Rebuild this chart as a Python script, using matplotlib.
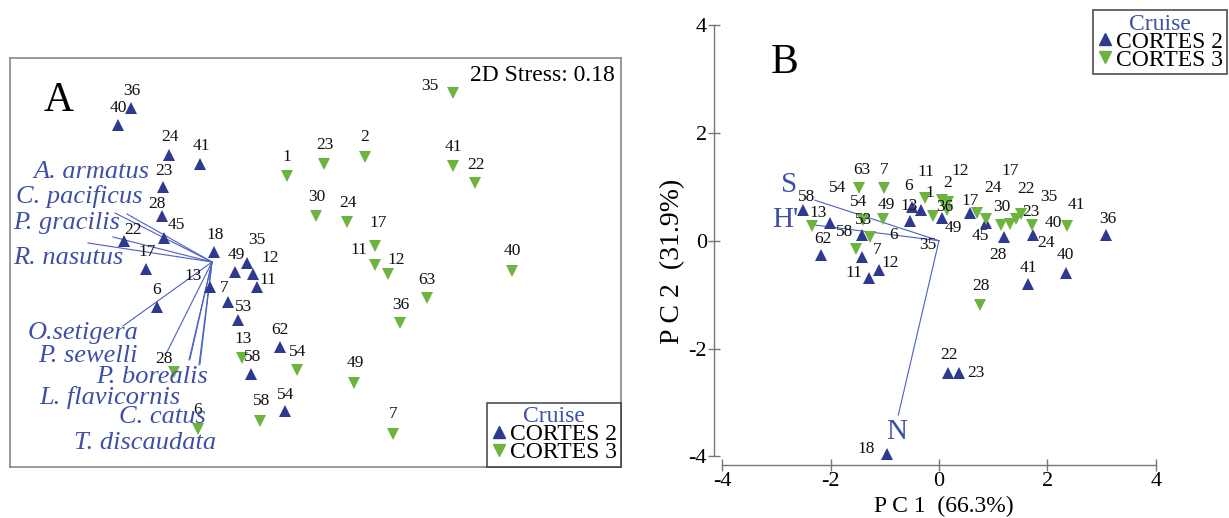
import matplotlib.pyplot as plt
from matplotlib.lines import Line2D

plt.rcParams['font.family'] = ['Liberation Serif', 'DejaVu Serif']
plt.rcParams['axes.unicode_minus'] = False

BLUE = '#2d3a8f'
GREEN = '#6cb33f'
TXT_BLUE = '#3d4fa6'
LINE_BLUE = '#4d5fc2'

# ---------------- data: panel A (nMDS) ----------------
a_c2_lab = ['36', '40', '24', '41', '23', '28', '45', '22', '17', '18', '49',
            '35', '12', '11', '13', '7', '53', '6', '62', '58', '54']
a_c2_x = [-1.84, -1.97, -1.46, -1.15, -1.52, -1.53, -1.51, -1.91, -1.69, -1.01, -0.80,
          -0.68, -0.62, -0.58, -1.05, -0.87, -0.77, -1.58, -0.35, -0.64, -0.30]
a_c2_y = [1.54, 1.37, 1.07, 0.98, 0.75, 0.46, 0.24, 0.21, -0.07, 0.10, -0.10,
          -0.01, -0.12, -0.25, -0.25, -0.40, -0.58, -0.45, -0.85, -1.12, -1.49]

a_c3_lab = ['35', '1', '23', '2', '41', '22', '30', '24', '17', '11', '12',
            '63', '36', '49', '7', '40', '54', '28', '6', '58', '13']
a_c3_x = [1.38, -0.28, 0.09, 0.50, 1.38, 1.60, 0.01, 0.32, 0.60, 0.60, 0.73,
          1.12, 0.85, 0.39, 0.78, 1.97, -0.18, -1.41, -1.17, -0.55, -0.73]
a_c3_y = [1.69, 0.86, 0.98, 1.05, 0.96, 0.79, 0.46, 0.40, 0.16, -0.03, -0.12,
          -0.36, -0.61, -1.21, -1.72, -0.09, -1.08, -1.10, -1.67, -1.59, -0.96]

species = ['A. armatus', 'C. pacificus', 'P. gracilis', 'R. nasutus', 'O.setigera',
           'P. sewelli', 'P. borealis', 'L. flavicornis', 'C. catus', 'T. discaudata']
vec_origin_a = (-1.03, 0.00)
vec_x = [-2.00, -1.88, -2.02, -2.27, -1.92, -1.48, -1.26, -1.16, -1.25, -1.15]
vec_y = [0.49, 0.48, 0.25, 0.19, -0.64, -0.90, -0.98, -1.03, -0.97, -1.02]
stress = 0.18

# ---------------- data: panel B (PCA) ----------------
b_c2_lab = ['58', '54', '62', '53', '7', '12', '11', '35', '13', '6', '49',
            '17', '45', '28', '24', '36', '40', '41', '22', '23', '18']
b_c2_x = [-2.50, -2.02, -2.18, -1.42, -1.42, -1.10, -1.30, -0.54, -0.49, -0.33, 0.05,
          0.58, 0.87, 1.20, 1.74, 3.09, 2.34, 1.65, 0.16, 0.37, -0.96]
b_c2_y = [0.56, 0.32, -0.27, 0.11, -0.30, -0.54, -0.70, 0.37, 0.63, 0.56, 0.42,
          0.51, 0.32, 0.07, 0.11, 0.11, -0.59, -0.80, -2.45, -2.45, -3.96]

b_c3_lab = ['13', '63', '7', '54', '49', '58', '6', '11', '1', '2', '12',
            '36', '17', '24', '30', '40', '22', '35', '23', '41', '28']
b_c3_x = [-2.35, -1.48, -1.01, -1.40, -1.03, -1.54, -1.27, -0.25, -0.11, 0.05, 0.17,
          0.14, 0.70, 0.87, 1.14, 1.31, 1.42, 1.51, 1.71, 2.37, 0.76]
b_c3_y = [0.27, 0.98, 0.97, 0.38, 0.40, -0.16, 0.06, 0.80, 0.46, 0.75, 0.72,
          0.57, 0.52, 0.40, 0.29, 0.31, 0.40, 0.49, 0.29, 0.28, -1.19]

env_vars = ['S', "H'", 'N']
env_x = [-2.29, -2.29, -0.75]
env_y = [0.75, 0.29, -3.23]
pc1_pct, pc2_pct = 66.3, 31.9

# ---------------- label layout (offsets in pixels) ----------------
a_c2_off = [(1, 17), (0, 17), (1, 18), (1, 18), (1, 16), (-5, 12), (12, 13), (9, 11),
            (1, 17), (1, 17), (1, 17), (10, 23), (17, 16), (11, 7), (-17, 11), (-4, 14),
            (6, 13), (0, 17), (0, 17), (2, 17), (1, 16)]
a_c3_off = [(-23, 7), (0, 19), (1, 19), (0, 20), (0, 19), (1, 18), (1, 19), (1, 19),
            (3, 23), (-16, 15), (8, 14), (0, 18), (1, 18), (1, 20), (0, 20), (0, 20),
            (1, 18), (-10, 13), (0, 19), (2, 20), (1, 19)]
b_c2_off = [(3, 13), (8, 35), (2, 16), (2, 15), (15, 7), (11, 7), (-15, 5), (18, -24),
            (-3, 1), (-13, 24), (12, -10), (0, 12), (-6, -13), (-6, -18), (13, -8),
            (1, 16), (0, 18), (0, 16), (1, 18), (17, 0), (-21, 5)]
b_c3_off = [(7, 13), (3, 18), (0, 18), (-4, 18), (3, 14), (-11, 17), (23, 2), (0, 26),
            (-3, 23), (6, 17), (12, 31), (-2, 3), (33, 42), (7, 31), (1, 18), (43, 1),
            (10, 30), (28, 17), (-1, 13), (9, 21), (1, 19)]
species_pos = [(0.133, 0.721), (0.114, 0.661), (0.093, 0.596), (0.095, 0.510),
               (0.119, 0.328), (0.128, 0.271), (0.233, 0.221), (0.164, 0.170),
               (0.250, 0.122), (0.221, 0.058)]
env_lab_pos = [(-2.76, 1.03), (-2.84, 0.38), (-0.78, -3.54)]

W, H = 1229, 518
fig = plt.figure(figsize=(W / 100, H / 100), dpi=100)


def points(ax, xs, ys, labs, offs, marker, color):
    ax.plot(xs, ys, ls='none', marker=marker, color=color, markersize=8.5,
            markeredgewidth=0, zorder=3)
    for x, y, t, (dx, dy) in zip(xs, ys, labs, offs):
        ax.annotate(t, (x, y), xytext=(dx, dy), textcoords='offset pixels',
                    ha='center', va='center', fontsize=12.5, color='#111111', zorder=4)


def cruise_legend(ax, **kw):
    handles = [Line2D([], [], ls='none', marker='^', color=BLUE, markersize=8.5),
               Line2D([], [], ls='none', marker='v', color=GREEN, markersize=8.5)]
    leg = ax.legend(handles, ['CORTES 2', 'CORTES 3'], title='Cruise', fontsize=17,
                    title_fontsize=17, frameon=True, fancybox=False, borderpad=0.15,
                    labelspacing=-0.15, handlelength=0.7, handletextpad=0.15,
                    borderaxespad=0, **kw)
    leg.get_title().set_color(TXT_BLUE)
    leg.get_frame().set_edgecolor('#222222')
    leg.get_frame().set_linewidth(1.2)
    leg.set_zorder(6)
    return leg


# ---------------- panel A ----------------
axA = fig.add_axes([10 / W, 1 - 467 / H, 611 / W, 409 / H])
axA.set_xlim(-3.05, 3.06)
axA.set_ylim(-2.05, 2.04)
axA.set_xticks([])
axA.set_yticks([])
for sp in axA.spines.values():
    sp.set_color('#888888')
    sp.set_linewidth(1.2)

for vx, vy in zip(vec_x, vec_y):
    axA.plot([vec_origin_a[0], vx], [vec_origin_a[1], vy], color=LINE_BLUE, lw=0.8, zorder=2)
for name, (px, py) in zip(species, species_pos):
    axA.text(px, py, name, transform=axA.transAxes, ha='center', va='center',
             fontsize=19, style='italic', color=TXT_BLUE, zorder=5)

points(axA, a_c2_x, a_c2_y, a_c2_lab, a_c2_off, '^', BLUE)
points(axA, a_c3_x, a_c3_y, a_c3_lab, a_c3_off, 'v', GREEN)

axA.text(0.079, 0.895, 'A', transform=axA.transAxes, ha='center', va='center', fontsize=30)
axA.text(0.990, 0.957, f'2D Stress: {stress}', transform=axA.transAxes, ha='right',
         va='center', fontsize=17)
cruise_legend(axA, loc='lower right')

# ---------------- panel B ----------------
axB = fig.add_axes([690 / W, 0, 539 / W, 1])
axB.set_xlim(-4.594, 5.351)
axB.set_ylim(-5.140, 4.461)
axB.patch.set_alpha(0)
for s in ['top', 'right']:
    axB.spines[s].set_visible(False)
axB.spines['left'].set_position(('data', -4.15))
axB.spines['left'].set_bounds(-4, 4)
axB.spines['bottom'].set_position(('data', -4.16))
axB.spines['bottom'].set_bounds(-4, 4)
for s in ['left', 'bottom']:
    axB.spines[s].set_color('#777777')
    axB.spines[s].set_linewidth(1.0)
ticks = [-4, -2, 0, 2, 4]
axB.set_xticks(ticks)
axB.set_yticks(ticks)
axB.set_xticklabels([str(t) for t in ticks])
axB.set_yticklabels([str(t) for t in ticks])
axB.tick_params(direction='inout', length=8, width=1.0, color='#777777',
                labelsize=16, pad=1)

for vx, vy in zip(env_x, env_y):
    axB.plot([0, vx], [0, vy], color=LINE_BLUE, lw=0.8, zorder=2)
for name, (px, py) in zip(env_vars, env_lab_pos):
    axB.text(px, py, name, ha='center', va='center', fontsize=21, color=TXT_BLUE, zorder=5)

points(axB, b_c2_x, b_c2_y, b_c2_lab, b_c2_off, '^', BLUE)
points(axB, b_c3_x, b_c3_y, b_c3_lab, b_c3_off, 'v', GREEN)

axB.text(-2.84, 3.30, 'B', ha='center', va='center', fontsize=30)
axB.set_xlabel(f'P C 1  ({pc1_pct}%)', fontsize=17)
axB.set_ylabel(f'P C 2  ({pc2_pct}%)', fontsize=20)
axB.xaxis.set_label_coords(0.471, 0.022)
axB.xaxis.label.set_va('center')
axB.yaxis.set_label_coords(-0.0315, 0.495)
axB.yaxis.label.set_va('center')
cruise_legend(axB, loc='upper right', bbox_to_anchor=(1227 / W, 1 - 10 / H),
              bbox_transform=fig.transFigure)

fig.savefig('out.png', dpi=100)
